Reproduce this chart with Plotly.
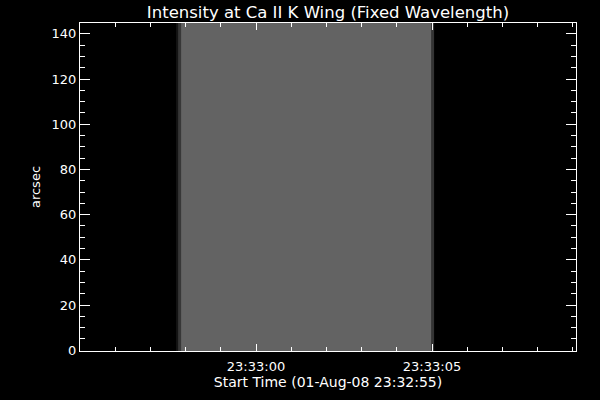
import plotly.graph_objects as go

# Time axis: seconds after start time 23:32:55
x_edges = [2.73, 2.78, 2.87, 9.97, 10.06]
intensity = [20, 55, 99, 52]
y_edges = [-0.35, 144.8]

x_tickvals = [5, 10]
x_ticktext = ["23:33:00", "23:33:05"]
y_tickvals = [0, 20, 40, 60, 80, 100, 120, 140]

title_text = "Intensity at Ca II K Wing (Fixed Wavelength)"
xlabel = "Start Time (01-Aug-08 23:32:55)"
ylabel = "arcsec"

font = "DejaVu Sans"

fig = go.Figure()
fig.add_trace(go.Heatmap(
    x=x_edges, y=y_edges, z=[intensity],
    colorscale=[[0, "black"], [1, "white"]], zmin=0, zmax=255,
    showscale=False, zsmooth=False, hoverinfo="skip",
))

axis_common = dict(
    showline=True, linecolor="white", linewidth=1, mirror="ticks",
    ticks="inside", tickcolor="white", tickwidth=1,
    showgrid=False, zeroline=False,
    tickfont=dict(family=font, size=13, color="white"),
)

fig.update_layout(
    width=600, height=400,
    paper_bgcolor="black", plot_bgcolor="black",
    margin=dict(l=80, r=24, t=23, b=49),
    title=dict(text=title_text, x=0.5, xref="paper", y=1 - 12 / 400, yanchor="middle",
               font=dict(family=font, size=16.5, color="white")),
    xaxis=dict(
        range=[0, 14.09], tickvals=x_tickvals, ticktext=x_ticktext, ticklen=7,
        ticklabelstandoff=3,
        minor=dict(ticks="inside", dtick=1, tick0=0, ticklen=4, tickcolor="white", showgrid=False),
        title=dict(text=xlabel, font=dict(family=font, size=14, color="white"), standoff=2),
        **axis_common,
    ),
    yaxis=dict(
        range=[y_edges[0], y_edges[1]], tickvals=y_tickvals, ticklen=10,
        minor=dict(ticks="inside", dtick=5, tick0=0, ticklen=5, tickcolor="white", showgrid=False),
        title=dict(text=ylabel, font=dict(family=font, size=13, color="white"), standoff=8),
        **axis_common,
    ),
)

fig.write_html(
    "out.html",
    config={"displayModeBar": False},
    post_script="document.body.style.margin='0';document.body.style.background='black';",
)
